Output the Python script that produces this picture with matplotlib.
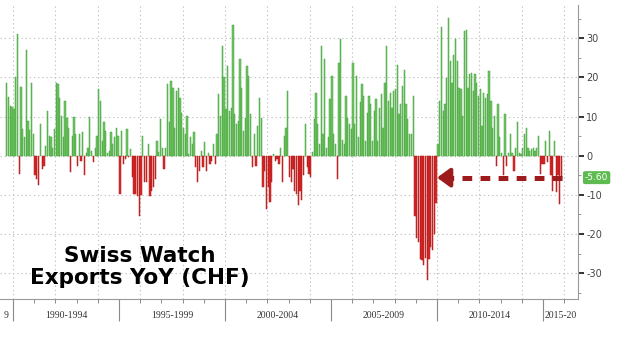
import numpy as np
import matplotlib
matplotlib.use("Agg")
import matplotlib.pyplot as plt
from matplotlib.transforms import blended_transform_factory

plt.rcParams['lines.scale_dashes'] = False

# Swiss watch exports, YoY % change (CHF), monthly, Sep 1989 - Nov 2015
first_year, first_month = 1989, 9
y1989 = [18.6, 15.0, 12.7, 12.5]
y1990 = [12.0, 20.0, 31.0, -4.7, 17.5, 6.8, 4.7, 27.0, 8.9, 6.5, 18.6, 5.5]
y1991 = [-5.0, -6.0, -7.6, 8.0, -3.4, -2.5, 2.5, 11.4, 5.0, 4.7, 2.0, 6.8]
y1992 = [18.6, 18.2, 14.8, 10.2, 4.7, 14.0, 9.7, 7.2, -4.2, 5.0, 10.0, 5.5]
y1993 = [-2.5, 5.5, -1.3, 6.0, -5.0, 0.8, 2.0, 10.0, 1.3, -1.7, 2.0, 5.0]
y1994 = [17.0, 14.0, 3.8, 8.5, 6.4, 0.8, 1.3, 6.0, 3.0, 4.7, 7.2, 5.0]
y1995 = [-9.7, 6.4, -2.0, -0.8, 6.8, -0.4, 1.7, -5.5, -9.7, -9.7, -10.4, -15.3]
y1996 = [-10.0, 5.0, -6.8, -6.8, 3.0, -10.2, -8.9, -8.0, -6.0, 3.8, 1.0, 9.3]
y1997 = [2.0, -3.4, 2.0, 18.2, 8.5, 19.0, 17.4, 7.2, 16.5, 17.4, 14.8, 11.0]
y1998 = [7.0, 5.5, 10.2, 0.5, 4.7, 3.0, 6.0, -3.0, -6.8, -3.8, 1.3, -3.0]
y1999 = [3.4, -3.8, 0.8, -2.0, -1.3, 3.0, -2.0, 5.5, 15.7, 10.2, 28.0, 20.0]
y2000 = [11.9, 22.9, 11.4, 12.3, 33.5, 10.6, 8.0, 8.9, 24.8, 17.2, 6.4, 9.7]
y2001 = [22.9, 20.3, 10.6, -3.0, 5.5, -2.5, 7.6, 14.8, 9.7, -8.0, -3.8, -13.6]
y2002 = [-8.0, -11.9, -6.8, 0.4, -1.3, -0.8, -2.0, 2.0, -6.8, 5.0, 7.2, 16.5]
y2003 = [-5.5, -6.8, -3.4, -8.9, -9.7, -12.7, -8.9, -11.4, -5.0, 8.0, -3.0, -4.7]
y2004 = [-5.5, 1.0, 9.3, 16.1, 8.0, 3.0, 28.0, 5.5, 24.6, 2.0, 4.7, 14.4]
y2005 = [20.3, 5.5, 3.0, -6.0, 23.7, 29.7, 4.0, 3.0, 15.3, 9.7, 8.0, 6.8]
y2006 = [23.7, 8.0, 20.3, 4.7, 13.6, 18.2, 15.3, 3.8, 11.0, 15.3, 13.1, 3.8]
y2007 = [11.4, 14.4, 3.8, 12.3, 15.7, 7.2, 18.6, 28.0, 14.0, 16.1, 12.3, 16.5]
y2008 = [17.0, 23.3, 10.6, 13.1, 17.8, 22.0, 13.1, 9.3, 5.5, 5.5, 15.3, -15.3]
y2009 = [-21.0, -22.0, -26.3, -26.7, -28.0, -26.0, -31.8, -26.3, -23.3, -24.0, -19.9, -12.0]
y2010 = [3.0, 14.0, 33.0, 11.4, 13.1, 19.9, 35.2, 24.2, 18.6, 25.8, 29.7, 24.2]
y2011 = [17.4, 17.0, 10.2, 31.8, 32.2, 17.4, 20.8, 21.2, 16.5, 20.8, 18.6, 15.3]
y2012 = [17.0, 7.6, 16.1, 14.8, 15.7, 21.6, 14.0, 7.2, 10.2, -2.5, 13.1, 4.7]
y2013 = [0.8, -5.0, 10.6, -2.5, 0.8, 5.5, 0.8, -3.8, 2.0, 8.5, 0.8, 0.4]
y2014 = [2.0, 5.5, 7.2, 2.0, 1.3, 1.7, 2.0, 1.3, 2.0, 5.0, -4.7, -2.0]
y2015 = [-2.0, 3.8, -1.7, 6.4, -5.0, -8.9, 3.8, -9.3, -5.0, -12.3, -5.6]

# period segments on the time axis and their (truncated, as shown) labels
period_starts = [1985, 1990, 1995, 2000, 2005, 2010, 2015]
period_labels = ["9", "1990-1994", "1995-1999", "2000-2004",
                 "2005-2009", "2010-2014", "2015-20"]
y_ticks = [-30, -20, -10, 0, 10, 20, 30]
title_text = "Swiss Watch\nExports YoY (CHF)"

values = np.array(y1989 + y1990 + y1991 + y1992 + y1993 + y1994 + y1995 +
                  y1996 + y1997 + y1998 + y1999 + y2000 + y2001 + y2002 +
                  y2003 + y2004 + y2005 + y2006 + y2007 + y2008 + y2009 +
                  y2010 + y2011 + y2012 + y2013 + y2014 + y2015)
month_idx = np.arange(len(values)) + (first_month - 1)
t = first_year + (month_idx + 0.5) / 12.0

W, H = 619, 339
fig = plt.figure(figsize=(W / 100, H / 100), dpi=100)
fig.patch.set_facecolor("white")
ax = fig.add_axes([0, 40 / H, 578 / W, 294 / H])
xlim = (1989.387, 2016.65)
ax.set_xlim(*xlim)
ax.set_ylim(-36.6, 38.5)

# grid
for yr in range(1990, 2017, 2):
    ax.axvline(yr, color="#c4c4c4", lw=0.8, ls=(0, (1, 2)), zorder=0)
for yv in y_ticks:
    ax.axhline(yv, color="#c4c4c4", lw=0.8, ls=(0, (1, 2)), zorder=0)

pos = values >= 0
bw = 0.72 / 12
ax.bar(t[pos], values[pos], width=bw, color="#72c562", edgecolor="#44a23e",
       linewidth=0.35, zorder=2)
ax.bar(t[~pos], values[~pos], width=bw, color="#dc2a2a", edgecolor="#b01818",
       linewidth=0.35, zorder=2)

# spines
for s in ["top", "left"]:
    ax.spines[s].set_visible(False)
ax.spines["right"].set_color("#9a9a9a")
ax.spines["bottom"].set_color("#9a9a9a")
ax.spines["right"].set_linewidth(0.8)
ax.spines["bottom"].set_linewidth(0.8)

# y axis on right
ax.yaxis.tick_right()
ax.set_yticks(y_ticks)
ax.set_yticklabels([str(v) for v in y_ticks])
ax.set_yticks(np.arange(-35, 36, 5), minor=True)
ax.tick_params(axis="y", which="major", direction="out", length=4, width=1.4,
               color="#333333", labelsize=7, labelcolor="#444444", pad=2)
ax.tick_params(axis="y", which="minor", direction="out", length=2, width=0.6,
               color="#888888")

# x axis ticks: long at period boundaries, short yearly
ax.set_xticks(period_starts[1:])
ax.set_xticklabels([])
ax.set_xticks(range(1990, 2017), minor=True)
ax.tick_params(axis="x", which="major", direction="out", length=15.5, width=0.8,
               color="#8a8a8a")
ax.tick_params(axis="x", which="minor", direction="out", length=3, width=0.7,
               color="#8a8a8a")

# period labels, centred in the visible part of each segment
ax2 = fig.add_axes([0, 18 / H, 578 / W, 22 / H])
ax2.set_xlim(*xlim)
ax2.set_ylim(0, 1)
ax2.axis("off")
for ps, lab in zip(period_starts, period_labels):
    lo = max(ps, xlim[0])
    hi = min(ps + 5, xlim[1])
    ax2.text((lo + hi) / 2, 0.27, lab, ha="center", va="center", fontsize=7,
             family="Liberation Serif", color="#333333")

# dashed arrow to the latest value
last_v = values[-1]
arrow_color = "#9e1b1b"
ax.plot([t[-1], 2010.35], [last_v, last_v], color=arrow_color, lw=3.6,
        dashes=(7, 6), solid_capstyle="butt", dash_capstyle="butt", zorder=4)
ax.annotate("", xy=(2010.0, last_v), xytext=(2010.55, last_v),
            arrowprops=dict(arrowstyle="-|>,head_length=0.55,head_width=0.4",
                            color=arrow_color, lw=3.0, shrinkA=0, shrinkB=0,
                            mutation_scale=14),
            zorder=4)

# latest value label on the axis
tr = blended_transform_factory(ax.transAxes, ax.transData)
ax.text(1.012, last_v, f"{last_v:.2f}", transform=tr, ha="left", va="center",
        fontsize=6.5, color="white", clip_on=False,
        bbox=dict(boxstyle="round,pad=0.22", fc="#5dbb4f", ec="none"))

# title block
fig.text(140 / W, 1 - 267 / H, title_text, ha="center", va="center",
         fontsize=15.5, fontweight="bold", family="DejaVu Sans",
         color="black", linespacing=1.15)

fig.savefig("out.png", dpi=100, facecolor="white")
